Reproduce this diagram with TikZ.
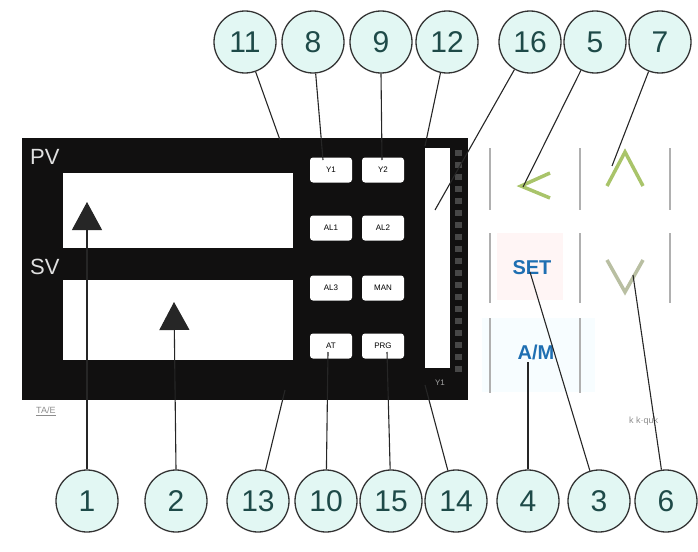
\documentclass[tikz,border=0pt]{standalone}
\usepackage{fontspec}
\setmainfont{Liberation Sans}
\usetikzlibrary{arrows.meta}
\definecolor{circfill}{HTML}{E2F7F3}
\definecolor{circtext}{HTML}{1E4A48}
\definecolor{panel}{HTML}{111010}
\definecolor{keygreen}{HTML}{A9C46A}
\definecolor{keyolive}{HTML}{B9BFA2}
\definecolor{keyblue}{HTML}{1F6FB2}
\definecolor{sepgray}{HTML}{B0B0B0}
\tikzset{
  callout/.style={circle,draw=black!80,line width=1.3pt,fill=circfill,minimum size=62pt,inner sep=0pt,
    text=circtext,font=\fontsize{30}{30}\selectfont},
  leader/.style={draw=black!85,line width=1.1pt},
  bigarrow/.style={leader,-{Triangle[width=30pt,length=28pt]}},
  keybtn/.style={rectangle,rounded corners=3pt,fill=white,minimum width=42pt,minimum height=25pt,inner sep=0pt,
    font=\fontsize{8}{8}\selectfont},
  disp/.style={fill=white},
  paneltext/.style={text=white!88!black,font=\fontsize{22}{22}\selectfont,inner sep=0pt},
  sep/.style={draw=sepgray,line width=2pt},
  chev/.style={line width=3.5pt,line join=miter},
  keylabel/.style={text=keyblue,font=\bfseries\fontsize{20}{20}\selectfont,inner sep=0pt},
  faint/.style={text=black!45,font=\fontsize{9}{9}\selectfont,inner sep=1pt}
}
\begin{document}
\begin{tikzpicture}[x=1pt,y=-1pt]
\useasboundingbox (0,0) rectangle (698,551);
% panel
\fill[panel] (22,138) rectangle (468,400);
\node[paneltext,anchor=west] (pv) at (30,157) {PV};
\node[paneltext,anchor=west] (sv) at (30,267) {SV};
\fill[disp] (63,173) rectangle (293,248);
\fill[disp] (63,280) rectangle (293,360);
% buttons
\node[keybtn] (y1) at (331,170) {Y1};
\node[keybtn] (y2) at (383,170) {Y2};
\node[keybtn] (al1) at (331,228) {AL1};
\node[keybtn] (al2) at (383,228) {AL2};
\node[keybtn] (al3) at (331,288) {AL3};
\node[keybtn] (man) at (383,288) {MAN};
\node[keybtn] (at) at (331,346) {AT};
\node[keybtn] (prg) at (383,346) {PRG};
% bar graph
\fill[white] (425,148) rectangle (450,368);
\foreach \yy in {150,162,...,366} \fill[black!72] (455,\yy) rectangle (462,\yy+6);
\node[text=black!35,font=\fontsize{8}{8}\selectfont,inner sep=0pt] (ybar) at (440,383) {Y1};
% right keys
\fill[red!4] (497,233) rectangle (563,300);
\fill[cyan!3] (482,318) rectangle (595,392);
\foreach \xx in {490,580,670} {\draw[sep] (\xx,148) -- (\xx,210); \draw[sep] (\xx,233) -- (\xx,303);}
\foreach \xx in {490,580} {\draw[sep] (\xx,318) -- (\xx,393);}
\draw[chev,keygreen] (550,173) -- (521,186) -- (550,198);
\draw[chev,keygreen] (607,186) -- (625,152) -- (643,186);
\draw[chev,keyolive] (607,260) -- (625,292) -- (643,260);
\node[keylabel] (set) at (532,268) {SET};
\node[keylabel] (am) at (536,352) {A/M};
\node[faint,anchor=west] (tave) at (35,411) {\underline{TA/E}};
\node[faint,anchor=west] (kk) at (628,421) {k k·quk};
% callouts top
\node[callout] (c11) at (245,42) {11};
\node[callout] (c8) at (313,42) {8};
\node[callout] (c9) at (381,42) {9};
\node[callout] (c12) at (447,42) {12};
\node[callout] (c16) at (530,42) {16};
\node[callout] (c5) at (595,42) {5};
\node[callout] (c7) at (660,42) {7};
% callouts bottom
\node[callout] (c1) at (87,501) {1};
\node[callout] (c2) at (176,501) {2};
\node[callout] (c13) at (258,501) {13};
\node[callout] (c10) at (326,501) {10};
\node[callout] (c15) at (391,501) {15};
\node[callout] (c14) at (456,501) {14};
\node[callout] (c4) at (528,501) {4};
\node[callout] (c3) at (599,501) {3};
\node[callout] (c6) at (666,501) {6};
% targets
\coordinate (p11) at (280,140);
\coordinate (p8) at (323,160);
\coordinate (p9) at (382,160);
\coordinate (p12) at (425,146);
\coordinate (p16) at (435,210);
\coordinate (p5) at (523,187);
\coordinate (p7) at (612,166);
\coordinate (p1) at (87,202);
\coordinate (p2) at (174,302);
\coordinate (p13) at (285,390);
\coordinate (p10) at (328,352);
\coordinate (p15) at (387,352);
\coordinate (p14) at (425,385);
\coordinate (p4) at (528,362);
\coordinate (p3) at (530,272);
\coordinate (p6) at (633,275);
% leaders
\draw[leader] (c11) -- (p11);
\draw[leader] (c8) -- (p8);
\draw[leader] (c9.south) -- (p9);
\draw[leader] (c12) -- (p12);
\draw[leader] (c16) -- (p16);
\draw[leader] (c5) -- (p5);
\draw[leader] (c7) -- (p7);
\draw[bigarrow] (c1.north) -- (p1);
\draw[bigarrow] (c2.north) -- (p2);
\draw[leader] (c13) -- (p13);
\draw[leader] (c10) -- (p10);
\draw[leader] (c15) -- (p15);
\draw[leader] (c14) -- (p14);
\draw[leader] (c4.north) -- (p4);
\draw[leader] (c3) -- (p3);
\draw[leader] (c6) -- (p6);
\end{tikzpicture}
\end{document}
